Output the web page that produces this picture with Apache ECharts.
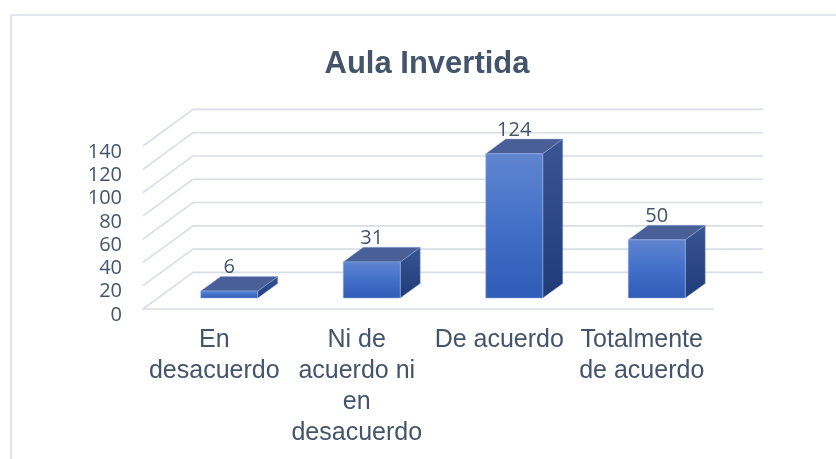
<!DOCTYPE html>
<html>
<head>
<meta charset="utf-8">
<script src="https://cdn.jsdelivr.net/npm/echarts@6/dist/echarts.min.js"></script>
<style>
  html, body { margin: 0; padding: 0; background: #fff; }
  #chart { width: 836px; height: 459px; }
</style>
</head>
<body>
<div id="chart"></div>
<script>
// data
const categories = ["En\ndesacuerdo", "Ni de\nacuerdo ni\nen\ndesacuerdo", "De acuerdo", "Totalmente\nde acuerdo"];
const values = [6, 31, 124, 50];
const yTicks = [0, 20, 40, 60, 80, 100, 120, 140];

const TEXT = "#44546A";
const GRIDLINE = "#d9dde4";
// depth of the 3d box (px) and where the bars sit inside it
const DX = 50, DY = 36.6;
const BAR_D0 = 0.3, BAR_D1 = 0.7, BAR_W = 0.4;

let chart = echarts.init(document.getElementById("chart"));

function renderWalls(params, api) {
  const cs = params.coordSys;
  const y = api.coord([0, api.value(0)])[1];
  const x0 = cs.x, x1 = cs.x + cs.width;
  const style = { stroke: GRIDLINE, lineWidth: 1.6, fill: null };
  return {
    type: "group",
    children: [
      { type: "line", shape: { x1: x0 + DX, y1: y - DY, x2: x1 + DX, y2: y - DY }, style: style },
      { type: "line", shape: { x1: x0, y1: y, x2: x0 + DX, y2: y - DY }, style: style },
    ],
  };
}

function renderBar(params, api) {
  const idx = api.value(0);
  const v = api.value(1);
  const base = api.coord([idx, 0]);
  const top = api.coord([idx, v]);
  const bw = api.size([1, 0])[0] * BAR_W;
  const fx = base[0] + BAR_D0 * DX - bw / 2;
  const fy0 = base[1] - BAR_D0 * DY;
  const fy1 = top[1] - BAR_D0 * DY;
  const ddx = (BAR_D1 - BAR_D0) * DX;
  const ddy = (BAR_D1 - BAR_D0) * DY;
  const edge = "rgba(150,178,228,0.7)";
  return {
    type: "group",
    children: [
      {
        type: "polygon",
        shape: { points: [[fx + bw, fy1], [fx + bw + ddx, fy1 - ddy], [fx + bw + ddx, fy0 - ddy], [fx + bw, fy0]] },
        style: {
          fill: new echarts.graphic.LinearGradient(0, 0, 0, 1, [
            { offset: 0, color: "#3a5592" },
            { offset: 1, color: "#1f3b78" },
          ]),
          stroke: edge, lineWidth: 0.6,
        },
      },
      {
        type: "polygon",
        shape: { points: [[fx, fy1], [fx + ddx, fy1 - ddy], [fx + bw + ddx, fy1 - ddy], [fx + bw, fy1]] },
        style: { fill: "#485f98", stroke: edge, lineWidth: 0.6 },
      },
      {
        type: "rect",
        shape: { x: fx, y: fy1, width: bw, height: fy0 - fy1 },
        style: {
          fill: new echarts.graphic.LinearGradient(0, 0, 0, 1, [
            { offset: 0, color: "#6085d0" },
            { offset: 0.5, color: "#4270c8" },
            { offset: 1, color: "#2e5cb6" },
          ]),
          stroke: edge, lineWidth: 0.8,
        },
      },
      {
        type: "text",
        style: {
          x: fx + bw / 2, y: fy1 - ddy + 1,
          text: String(v),
          align: "center", verticalAlign: "bottom",
          font: "20px 'Open Sans'", fill: TEXT,
        },
      },
    ],
  };
}

let option = {
  backgroundColor: "#fff",
  animation: false,
  title: {
    text: "Aula Invertida",
    left: 427,
    top: 49,
    padding: 0,
    textAlign: "center",
    textStyle: { fontFamily: "Liberation Sans", fontSize: 31, fontWeight: "bold", color: TEXT },
  },
  graphic: [
    {
      type: "rect",
      shape: { x: 11, y: 15, width: 900, height: 500 },
      style: { fill: null, stroke: "#e1e4e9", lineWidth: 2 },
      silent: true,
    },
  ],
  grid: { left: 143, right: 123, top: 146, bottom: 150 },
  xAxis: {
    type: "category",
    data: categories,
    axisTick: { show: false },
    axisLine: { lineStyle: { color: GRIDLINE, width: 1.6 } },
    axisLabel: {
      interval: 0,
      margin: 16,
      color: TEXT,
      fontFamily: "Liberation Sans",
      fontSize: 25,
      lineHeight: 31,
    },
  },
  yAxis: {
    type: "value",
    min: 0,
    max: 140,
    interval: 20,
    axisTick: { show: false },
    axisLine: { show: false },
    splitLine: { show: false },
    axisLabel: {
      margin: 21,
      color: TEXT,
      fontFamily: "Open Sans",
      fontSize: 20,
      verticalAlign: "top",
      lineHeight: 12,
    },
  },
  series: [
    {
      type: "custom",
      renderItem: renderWalls,
      data: yTicks.map((t) => [t]),
      encode: { y: 0 },
      silent: true,
      z: 1,
    },
    {
      type: "custom",
      renderItem: renderBar,
      data: values.map((v, i) => [i, v]),
      encode: { x: 0, y: 1 },
      z: 2,
    },
  ],
};
chart.setOption(option, true);
</script>
</body>
</html>
